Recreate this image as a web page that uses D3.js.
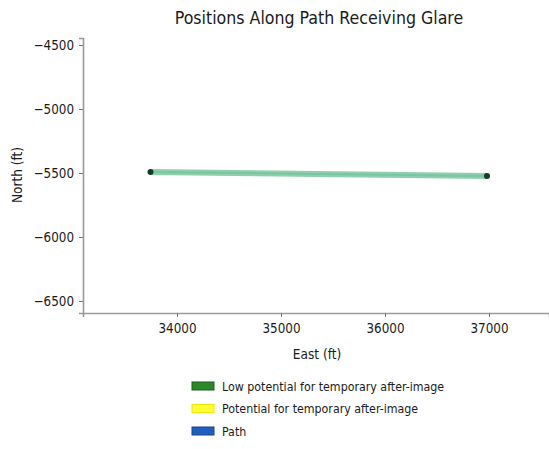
<!DOCTYPE html>
<html><head><meta charset="utf-8">
<script src="https://cdn.jsdelivr.net/npm/d3@7"></script>
<style>
body{margin:0;background:#fff;}
text{font-family:"DejaVu Sans Condensed","DejaVu Sans",sans-serif;fill:#1a1a1a;}
</style></head>
<body><svg id="c" width="549" height="449"></svg>
<script>
const pathEast = [33745, 36981];
const pathNorth = [-5492, -5523];
const xTicks = [34000, 35000, 36000, 37000];
const yTicks = [-4500, -5000, -5500, -6000, -6500];
const legendLabels = ["Low potential for temporary after-image", "Potential for temporary after-image", "Path"];
const legendColors = ["#2a8a2a", "#ffff33", "#1f5fbf"];
const legendBorders = ["#1d5e1d", "#e8e800", "#17448a"];

const svg = d3.select("#c");
const x = d3.scaleLinear().domain([33096, 37577]).range([83, 549]);
const y = d3.scaleLinear().domain([-4445, -6594]).range([38, 313]);
const fmt = d => d < 0 ? "\u2212" + Math.abs(d) : String(d);

const gx = svg.append("g").attr("transform", "translate(0,313)")
  .call(d3.axisBottom(x).tickValues(xTicks).tickFormat(fmt).tickSize(4).tickPadding(7));
const gy = svg.append("g").attr("transform", "translate(83,0)")
  .call(d3.axisLeft(y).tickValues(yTicks).tickFormat(fmt).tickSize(4).tickPadding(5));
[gx, gy].forEach(g => {
  g.select(".domain").attr("stroke", "#9a9a9a").attr("stroke-width", 1.6);
  g.selectAll(".tick line").attr("stroke", "#777");
  g.selectAll(".tick text").attr("font-size", 13.3).attr("fill", "#1a1a1a");
});

const pts = pathEast.map((e, i) => [x(e), y(pathNorth[i])]);
const line = d3.line();
svg.append("path").attr("d", line(pts)).attr("stroke", "#8fcfae").attr("stroke-width", 6)
  .attr("fill", "none");
svg.append("path").attr("d", line(pts)).attr("stroke", "#6cbf95").attr("stroke-width", 2)
  .attr("fill", "none").attr("opacity", 0.6);
svg.selectAll("circle.end").data(pts).enter().append("circle")
  .attr("cx", d => d[0]).attr("cy", d => d[1]).attr("r", 3).attr("fill", "#163a26");

svg.append("text").attr("x", 319).attr("y", 24).attr("text-anchor", "middle")
  .attr("font-size", 17.6).text("Positions Along Path Receiving Glare");
svg.append("text").attr("x", 317).attr("y", 359).attr("text-anchor", "middle")
  .attr("font-size", 13.5).text("East (ft)");
svg.append("text").attr("transform", "translate(22,175) rotate(-90)").attr("text-anchor", "middle")
  .attr("font-size", 13.5).text("North (ft)");

const lg = svg.append("g");
legendLabels.forEach((t, i) => {
  const yy = 386 + i * 22.5;
  lg.append("rect").attr("x", 192).attr("y", yy - 4).attr("width", 22).attr("height", 8)
    .attr("fill", legendColors[i]).attr("stroke", legendBorders[i]).attr("stroke-width", 1);
  lg.append("text").attr("x", 222).attr("y", yy + 4.5).attr("font-size", 12.3).text(t);
});
</script></body></html>
